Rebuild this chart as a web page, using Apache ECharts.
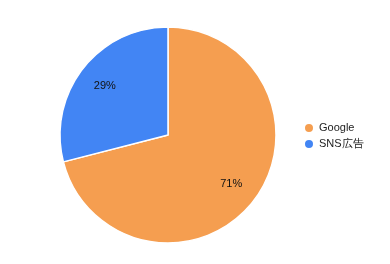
<!DOCTYPE html>
<html><head><meta charset="utf-8">
<script src="https://cdn.jsdelivr.net/npm/echarts@6/dist/echarts.min.js"></script>
<style>html,body{margin:0;padding:0;background:#fff}#c{width:390px;height:264px}</style>
</head><body><div id="c"></div>
<script>
var categories = ['Google', 'SNS広告'];
var values = [71, 29];
var colors = ['#F59E50', '#4285F4'];

var data = categories.map(function (n, i) { return { name: n, value: values[i], itemStyle: { color: colors[i] } }; });
var chart = echarts.init(document.getElementById('c'), null, { renderer: 'canvas' });
chart.setOption({
  animation: false,
  legend: {
    orient: 'vertical', left: 298, top: 117,
    icon: 'circle', itemWidth: 10, itemHeight: 10, itemGap: 4,
    textStyle: { fontFamily: 'Liberation Sans, Arial, sans-serif', fontSize: 11, color: '#222' },
    data: categories
  },
  series: [{
    type: 'pie', center: [168, 135], radius: [0, 108],
    startAngle: 90, clockwise: true,
    label: { show: false }, labelLine: { show: false },
    itemStyle: { borderColor: '#fff', borderWidth: 1.5 },
    data: data
  }, {
    type: 'pie', center: [168, 135], radius: [46, 108], silent: true,
    startAngle: 90, clockwise: true, legendHoverLink: false,
    itemStyle: { color: 'rgba(0,0,0,0)' },
    label: { show: true, position: 'inside', formatter: '{c}%', fontFamily: 'Liberation Sans, Arial, sans-serif', fontSize: 11, color: '#111' },
    labelLine: { show: false },
    data: categories.map(function (n, i) { return { name: n + ' ', value: values[i] }; })
  }]
});
</script></body></html>
